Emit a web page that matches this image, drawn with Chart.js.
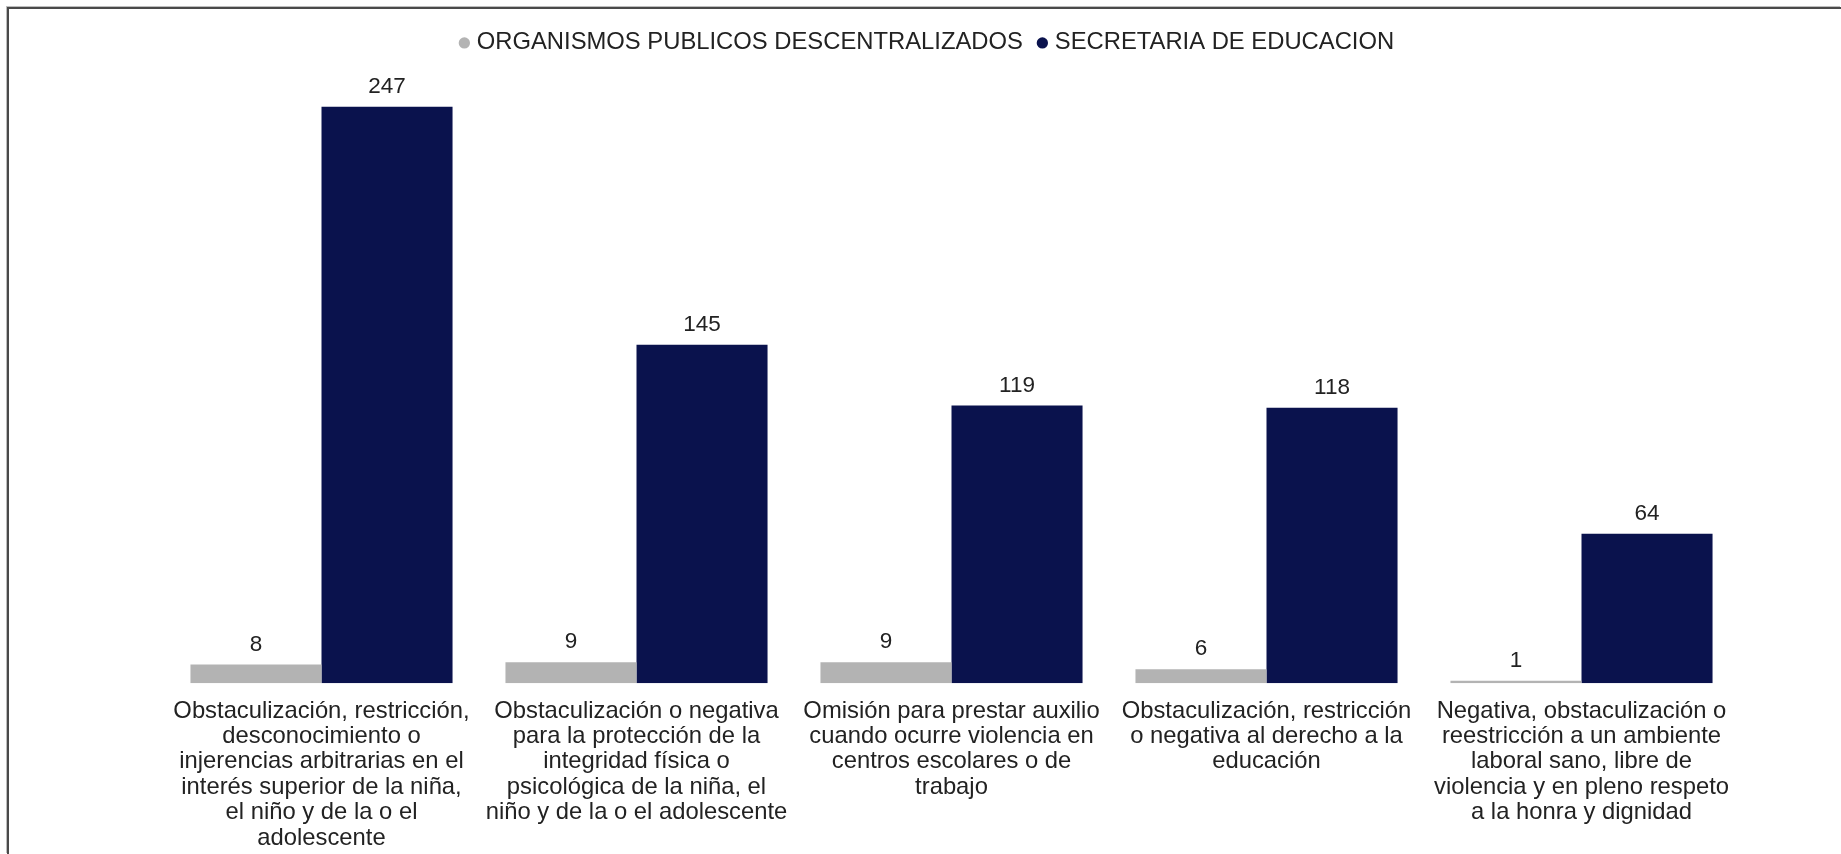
<!DOCTYPE html>
<html lang="es">
<head>
<meta charset="utf-8">
<title>Quejas por tipo de hecho violatorio</title>
<script src="https://cdn.jsdelivr.net/npm/chart.js@4.4.1/dist/chart.umd.min.js"></script>
<style>
  html, body { margin: 0; padding: 0; background: #fff; overflow: hidden; }
  .marco {
    position: absolute; left: 7px; top: 7px; right: 0; bottom: 0;
    border-left: 2px solid #4a4a4a; border-top: 2px solid #4a4a4a;
    box-shadow: -1px -1px 0 #bdbdbd;
  }
  #grafica { display: block; }
</style>
</head>
<body>
<div class="marco"><canvas id="grafica"></canvas></div>
<script>
// Categorías (cada una partida en líneas como en el eje)
const categorias = [
  ['Obstaculización, restricción,', 'desconocimiento o', 'injerencias arbitrarias en el', 'interés superior de la niña,', 'el niño y de la o el', 'adolescente'],
  ['Obstaculización o negativa', 'para la protección de la', 'integridad física o', 'psicológica de la niña, el', 'niño y de la o el adolescente'],
  ['Omisión para prestar auxilio', 'cuando ocurre violencia en', 'centros escolares o de', 'trabajo'],
  ['Obstaculización, restricción', 'o negativa al derecho a la', 'educación'],
  ['Negativa, obstaculización o', 'reestricción a un ambiente', 'laboral sano, libre de', 'violencia y en pleno respeto', 'a la honra y dignidad']
];
const organismos = [8, 9, 9, 6, 1];
const secretaria = [247, 145, 119, 118, 64];

const FUENTE = '"Liberation Sans", Arial, sans-serif';

// Etiqueta con el valor encima de cada barra
const etiquetasValor = {
  id: 'etiquetasValor',
  afterDatasetsDraw(chart) {
    const ctx = chart.ctx;
    ctx.save();
    ctx.font = '22.5px ' + FUENTE;
    ctx.fillStyle = '#222';
    ctx.textAlign = 'center';
    ctx.textBaseline = 'middle';
    chart.data.datasets.forEach((ds, i) => {
      chart.getDatasetMeta(i).data.forEach((bar, j) => {
        ctx.fillText(String(ds.data[j]), bar.x, bar.y - 20);
      });
    });
    ctx.restore();
  }
};

const marco = document.querySelector('.marco');
const lienzo = document.getElementById('grafica');
lienzo.width = marco.clientWidth;
lienzo.height = marco.clientHeight;

// ejes invisibles que solo reservan margen a los lados del área de barras
const margen = (ancho) => ({
  display: true,
  grid: { display: false, drawTicks: false },
  border: { display: false },
  ticks: { display: false },
  afterFit(escala) { escala.width = ancho; }
});

new Chart(lienzo, {
  type: 'bar',
  data: {
    labels: categorias,
    datasets: [
      {
        label: 'ORGANISMOS PUBLICOS DESCENTRALIZADOS',
        data: organismos,
        backgroundColor: '#B3B3B3',
        categoryPercentage: 0.832,
        barPercentage: 1
      },
      {
        label: 'SECRETARIA DE EDUCACION',
        data: secretaria,
        backgroundColor: '#0A124D',
        categoryPercentage: 0.832,
        barPercentage: 1
      }
    ]
  },
  options: {
    responsive: false,
    animation: false,
    layout: { padding: { left: 8, right: 0, top: 3, bottom: -12 } },
    plugins: {
      legend: {
        position: 'top',
        labels: {
          usePointStyle: true,
          pointStyle: 'circle',
          boxWidth: 1,
          boxHeight: 8,
          padding: 19,
          color: '#222',
          font: { family: FUENTE, size: 23.8 }
        }
      },
      tooltip: { enabled: false }
    },
    scales: {
      x: {
        grid: { display: false, drawTicks: false },
        border: { display: false },
        ticks: {
          autoSkip: false,
          maxRotation: 0,
          padding: 15,
          color: '#222',
          font: { family: FUENTE, size: 23.8, lineHeight: 1.07 }
        }
      },
      y: Object.assign(margen(147), { position: 'left', min: 0, max: 265 }),
      derecha: Object.assign(margen(102), { type: 'linear', position: 'right' })
    }
  },
  plugins: [etiquetasValor]
});
</script>
</body>
</html>
